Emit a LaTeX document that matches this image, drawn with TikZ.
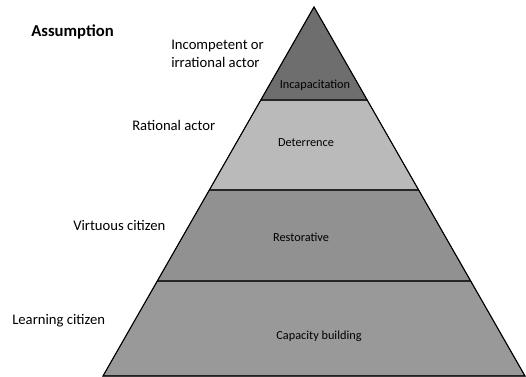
\documentclass[tikz,border=0pt]{standalone}
\usepackage{fontspec}
\setmainfont{Carlito}
\usetikzlibrary{calc}
\tikzset{
	side/.style={font=\fontsize{11}{13.5}\selectfont, anchor=west, inner sep=0pt, align=left},
	level/.style={font=\fontsize{9.2}{11}\selectfont, inner sep=0pt},
	sep/.style={line width=1.3pt, color=black!85}
}

\begin{document}
\begin{tikzpicture}[x=0.75pt, y=-0.75pt]
		%%%%% START %%%%%
		\useasboundingbox (0, 0) rectangle (526, 377);
		
		\coordinate (apex) at (314, 7);
		\coordinate (bl) at (103, 376);
		\coordinate (br) at (525, 376);
		
		\coordinate (l1) at ($(apex)!0.252!(bl)$);
		\coordinate (r1) at ($(apex)!0.252!(br)$);
		\coordinate (l2) at ($(apex)!0.496!(bl)$);
		\coordinate (r2) at ($(apex)!0.496!(br)$);
		\coordinate (l3) at ($(apex)!0.743!(bl)$);
		\coordinate (r3) at ($(apex)!0.743!(br)$);
		
		\draw[fill=black!40] (l3) -- (r3) -- (br) -- (bl) -- cycle;
		\draw[fill=black!43] (l2) -- (r2) -- (r3) -- (l3) -- cycle;
		\draw[fill=black!27] (l1) -- (r1) -- (r2) -- (l2) -- cycle;
		\draw[fill=black!57] (apex) -- (r1) -- (l1) -- cycle;
		
		\draw[sep] (l1) -- (r1);
		\draw[sep] (l2) -- (r2);
		\draw[sep] (l3) -- (r3);
		\draw[line width=0.8pt] (apex) -- (bl) -- (br) -- cycle;
		
		\node[level] (incap) at (315, 85) {Incapacitation};
		\node[level] (deter) at (306, 143) {Deterrence};
		\node[level] (resto) at (301, 237) {Restorative};
		\node[level] (capac) at (319, 336) {Capacity building};
		
		\node[side, font=\fontsize{12.5}{14}\selectfont\bfseries] (assum) at (31, 32) {Assumption};
		\node[side] (incomp) at (171, 54) {Incompetent or\\irrational actor};
		\node[side] (ratio) at (132, 125) {Rational actor};
		\node[side] (virtu) at (73, 225) {Virtuous citizen};
		\node[side] (learn) at (12, 321) {Learning citizen};
		
		%%%%% END %%%%%
	\end{tikzpicture}
\end{document}
